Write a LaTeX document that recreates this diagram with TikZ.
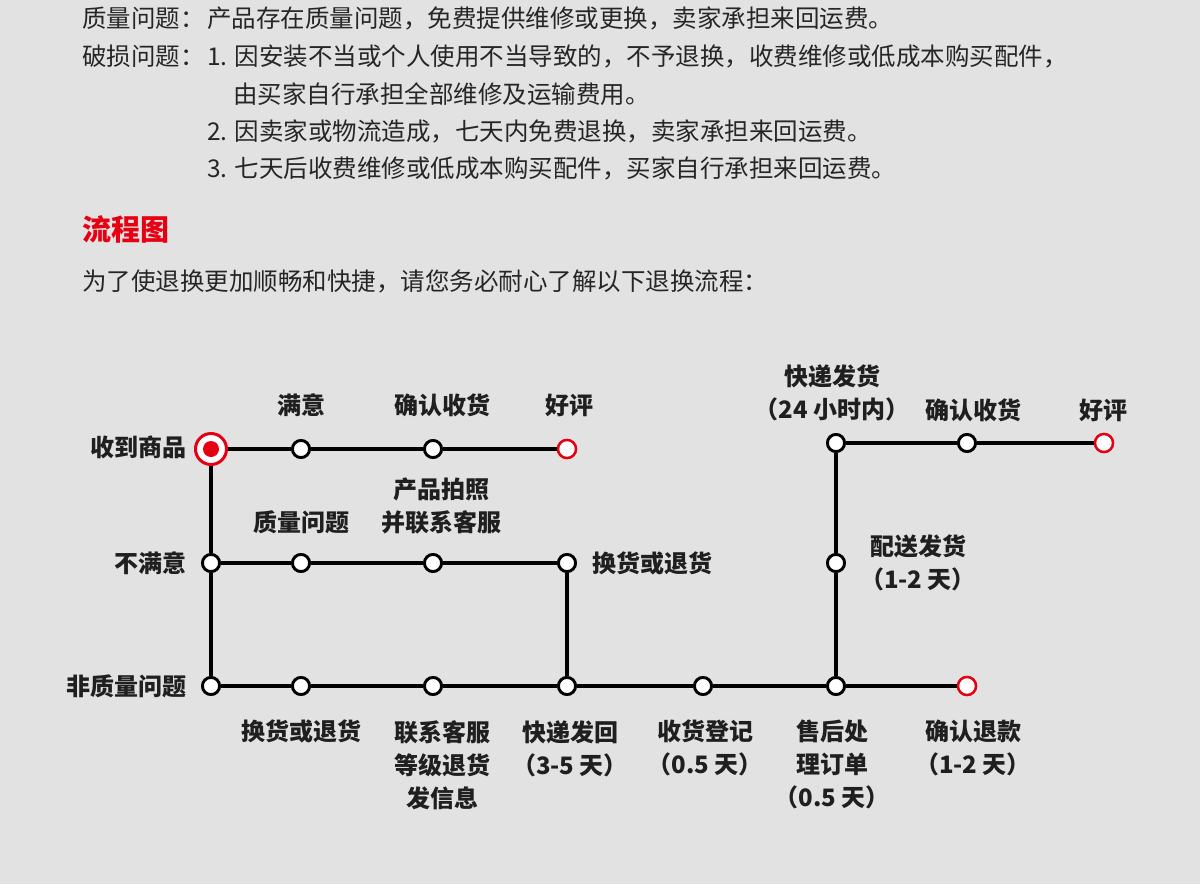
\documentclass[tikz,border=0pt]{standalone}
\usepackage{fontspec}
\newfontfamily\cjk{Noto Sans CJK SC}
\definecolor{bg}{RGB}{226,226,226}
\definecolor{mred}{RGB}{230,0,18}
\tikzset{
  dot/.style={circle,draw=black,fill=white,line width=2.8pt,minimum size=17pt,inner sep=0pt},
  enddot/.style={circle,draw=mred,fill=white,line width=2.4pt,minimum size=18pt,inner sep=0pt},
  lbl/.style={font=\cjk\bfseries\fontsize{24}{33}\selectfont,align=center,inner sep=0pt,text=black!88},
  body/.style={font=\cjk\fontsize{24.5}{30}\selectfont,anchor=west,inner sep=0pt,text=black!85},
  wire/.style={line width=3.2pt,black}
}
\begin{document}
\begin{tikzpicture}[x=1pt,y=-1pt]
\fill[bg] (0,0) rectangle (1200,884);
\useasboundingbox (0,0) rectangle (1200,884);
% top text
\node[body] (t1a) at (82,18) {质量问题：};
\node[body] (t1b) at (207,18) {产品存在质量问题，免费提供维修或更换，卖家承担来回运费。};
\node[body] (t2a) at (82,56) {破损问题：};
\node[body] (t2b) at (207,56) {1. 因安装不当或个人使用不当导致的，不予退换，收费维修或低成本购买配件，};
\node[body] (t3) at (233,94) {由买家自行承担全部维修及运输费用。};
\node[body] (t4) at (207,131) {2. 因卖家或物流造成，七天内免费退换，卖家承担来回运费。};
\node[body] (t5) at (207,168) {3. 七天后收费维修或低成本购买配件，买家自行承担来回运费。};
\node[body,font=\cjk\bfseries\fontsize{29}{30}\selectfont,text=mred] (title) at (82,229) {流程图};
\node[body] (intro) at (82,281) {为了使退换更加顺畅和快捷，请您务必耐心了解以下退换流程：};
% nodes
\coordinate (s) at (211,449);
\node[dot] (a2) at (301,449) {};
\node[dot] (a3) at (433,449) {};
\node[enddot] (a4) at (567,449) {};
\node[dot] (b1) at (211,563) {};
\node[dot] (b2) at (301,563) {};
\node[dot] (b3) at (433,563) {};
\node[dot] (b4) at (567,563) {};
\node[dot] (c1) at (211,686) {};
\node[dot] (c2) at (301,686) {};
\node[dot] (c3) at (433,686) {};
\node[dot] (c4) at (567,686) {};
\node[dot] (c5) at (703,686) {};
\node[dot] (c6) at (836,686) {};
\node[enddot] (c7) at (967,686) {};
\node[dot] (d1) at (836,563) {};
\node[dot] (e1) at (836,443) {};
\node[dot] (e2) at (967,443) {};
\node[enddot] (e3) at (1104,443) {};
% wires
\draw[wire] (s) -- (a2) -- (a3) -- (a4);
\draw[wire] (s) -- (b1) -- (c1);
\draw[wire] (b1) -- (b2) -- (b3) -- (b4) -- (c4);
\draw[wire] (c1) -- (c2) -- (c3) -- (c4) -- (c5) -- (c6) -- (c7);
\draw[wire] (c6) -- (d1) -- (e1) -- (e2) -- (e3);
% redraw dots on top
\foreach \n in {a2,a3,b1,b2,b3,b4,c1,c2,c3,c4,c5,c6,d1,e1,e2}
  \node[dot] at (\n) {};
\foreach \n in {a4,c7,e3}
  \node[enddot] at (\n) {};
\node[circle,draw=mred,fill=white,line width=3pt,minimum size=31pt,inner sep=0pt] (start) at (s) {};
\node[circle,fill=mred,minimum size=16pt,inner sep=0pt] (startin) at (s) {};
% labels
\node[lbl,anchor=east] (l1) at (187,447) {收到商品};
\node[lbl,anchor=east] (l2) at (187,563) {不满意};
\node[lbl,anchor=east] (l3) at (187,686) {非质量问题};
\node[lbl] (l4) at (301,405) {满意};
\node[lbl] (l5) at (442,405) {确认收货};
\node[lbl] (l6) at (569,405) {好评};
\node[lbl] (l7) at (301,522) {质量问题};
\node[lbl] (l8) at (441,506) {产品拍照\\并联系客服};
\node[lbl,anchor=west] (l9) at (592,563) {换货或退货};
\node[lbl,anchor=north] (l10) at (301,720) {换货或退货};
\node[lbl,anchor=north] (l11) at (442,720) {联系客服\\等级退货\\发信息};
\node[lbl,anchor=north] (l12) at (570,720) {快递发回\\（3-5 天）};
\node[lbl,anchor=north] (l13) at (705,720) {收货登记\\（0.5 天）};
\node[lbl,anchor=north] (l14) at (832,720) {售后处\\理订单\\（0.5 天）};
\node[lbl,anchor=north] (l15) at (973,720) {确认退款\\（1-2 天）};
\node[lbl] (l16) at (832,393) {快递发货\\（24 小时内）};
\node[lbl] (l17) at (973,410) {确认收货};
\node[lbl] (l18) at (1103,410) {好评};
\node[lbl] (l19) at (918,563) {配送发货\\（1-2 天）};
\end{tikzpicture}
\end{document}
